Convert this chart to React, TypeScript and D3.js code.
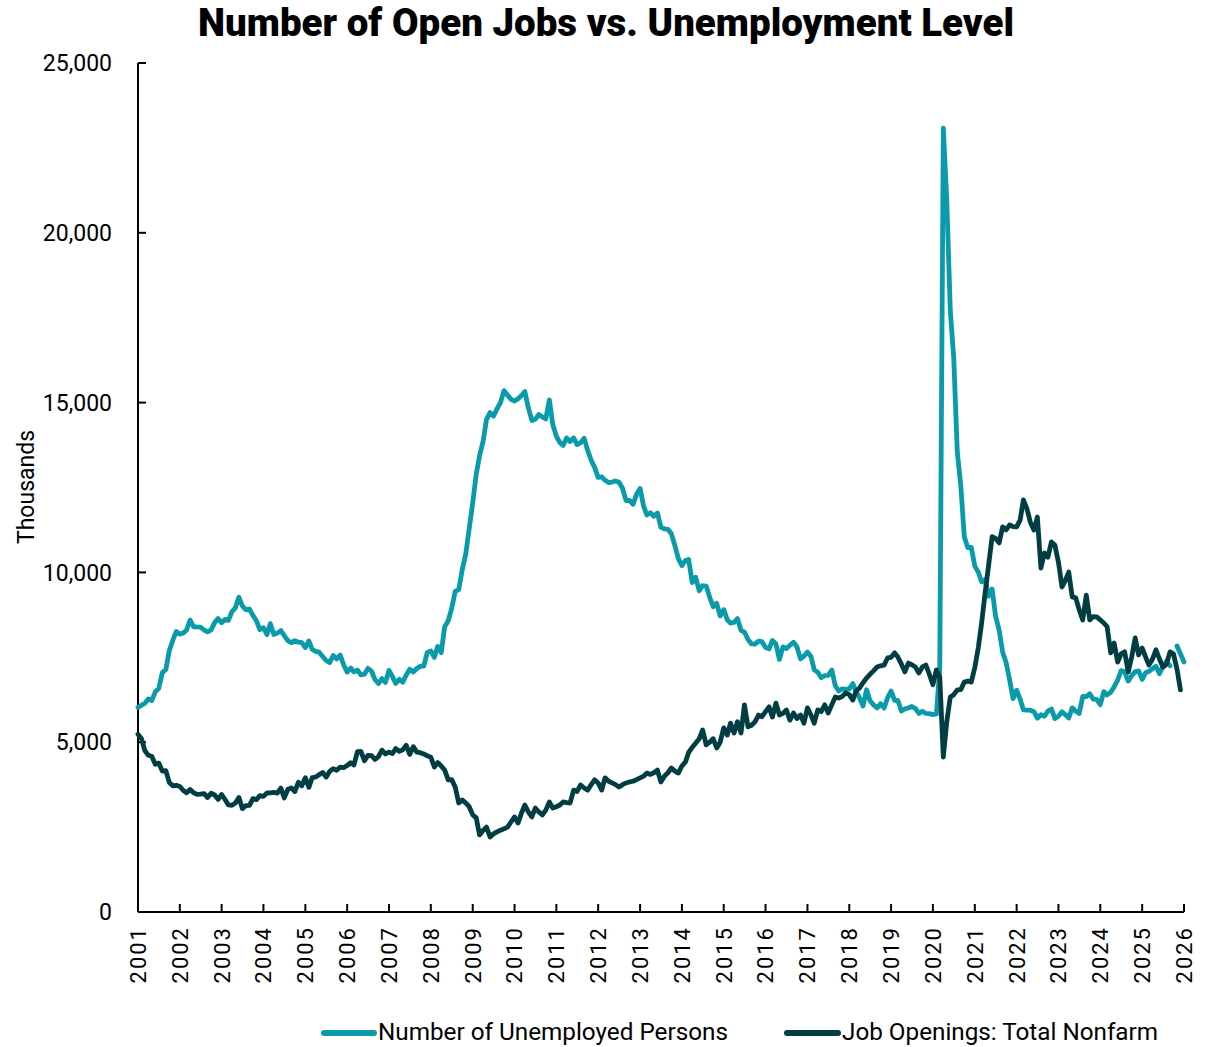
import React from "react";
import * as d3 from "d3";

const TITLE = "Number of Open Jobs vs. Unemployment Level";
const SERIES_NAMES = ["Number of Unemployed Persons", "Job Openings: Total Nonfarm"];
const Y_TICKS = [0, 5000, 10000, 15000, 20000, 25000];
const X_YEARS = d3.range(2001, 2027);

// Monthly, Jan 2001 .. Jan 2026 (thousands). null = not collected.
const unemployed: (number | null)[] = [
  6023, 6089, 6141, 6271, 6226, 6484, 6583, 7042, 7142, 7694, 8003, 8258,
  8182, 8215, 8304, 8599, 8399, 8393, 8390, 8304, 8251, 8307, 8520, 8640,
  8520, 8618, 8588, 8842, 8957, 9266, 9011, 8896, 8921, 8732, 8576, 8317,
  8370, 8167, 8491, 8170, 8212, 8286, 8136, 7990, 7927, 7992, 7944, 7934,
  7784, 7980, 7737, 7672, 7651, 7524, 7406, 7345, 7553, 7453, 7566, 7279,
  7064, 7184, 7072, 7120, 6980, 7001, 7175, 7091, 6847, 6727, 6872, 6762,
  7116, 6927, 6731, 6850, 6766, 6979, 7149, 7067, 7170, 7237, 7240, 7645,
  7685, 7497, 7822, 7637, 8395, 8575, 8937, 9438, 9494, 10074, 10538, 11286,
  12058, 12898, 13426, 13853, 14499, 14707, 14601, 14814, 15009, 15352, 15219, 15098,
  15046, 15113, 15202, 15325, 14849, 14474, 14512, 14648, 14579, 14516, 15081, 14348,
  14013, 13820, 13737, 13957, 13855, 13962, 13763, 13818, 13948, 13594, 13302, 13093,
  12797, 12813, 12713, 12646, 12660, 12692, 12656, 12471, 12115, 12124, 12005, 12298,
  12471, 11950, 11689, 11760, 11654, 11751, 11335, 11279, 11270, 11136, 10787, 10404,
  10202, 10349, 10380, 9702, 9859, 9460, 9608, 9599, 9262, 8990, 9090, 8717,
  8903, 8610, 8504, 8526, 8640, 8296, 8243, 8026, 7893, 7886, 7975, 7960,
  7790, 7751, 7996, 7892, 7436, 7806, 7755, 7855, 7942, 7812, 7452, 7531,
  7653, 7523, 7130, 7059, 6900, 6959, 6966, 7124, 6661, 6509, 6573, 6556,
  6572, 6725, 6492, 6306, 6064, 6545, 6220, 6099, 6008, 6133, 6004, 6303,
  6505, 6232, 6229, 5920, 5980, 6006, 6052, 5993, 5846, 5913, 5846, 5840,
  5811, 5831, 7191, 23078, 20985, 17697, 16308, 13542, 12535, 11049, 10728, 10736,
  10184, 10006, 9725, 9794, 9300, 9509, 8714, 8305, 7652, 7349, 6829, 6285,
  6533, 6262, 5954, 5945, 5942, 5897, 5707, 5808, 5765, 5915, 5977, 5696,
  5767, 5896, 5813, 5712, 6011, 5913, 5847, 6346, 6340, 6425, 6267, 6260,
  6106, 6489, 6392, 6469, 6626, 6825, 7109, 7078, 6799, 6959, 7078, 7096,
  6849, 7052, 7083, 7166, 7237, 7015, 7236, 7384, 7250, null, 7831, 7600,
  7362,
];

// Monthly, Jan 2001 .. Dec 2025 (thousands).
const openings: number[] = [
  5234, 5097, 4762, 4615, 4587, 4350, 4385, 4150, 4162, 3815, 3715, 3732,
  3696, 3577, 3510, 3604, 3510, 3463, 3472, 3487, 3370, 3496, 3446, 3316,
  3460, 3306, 3152, 3142, 3207, 3372, 3044, 3135, 3140, 3339, 3309, 3425,
  3405, 3505, 3507, 3521, 3498, 3647, 3358, 3614, 3654, 3546, 3820, 3719,
  3955, 3672, 3954, 3975, 4044, 4106, 3972, 4140, 4220, 4175, 4266, 4250,
  4314, 4395, 4332, 4720, 4729, 4453, 4612, 4604, 4493, 4573, 4765, 4653,
  4707, 4665, 4813, 4730, 4775, 4908, 4641, 4869, 4709, 4692, 4653, 4600,
  4560, 4270, 4400, 4300, 4180, 3890, 3900, 3680, 3210, 3300, 3210, 3100,
  2860, 2770, 2270, 2400, 2500, 2210, 2300, 2360, 2410, 2450, 2500, 2650,
  2800, 2620, 2900, 3150, 2950, 2800, 3060, 2950, 2860, 3000, 3240, 3060,
  3100, 3150, 3240, 3220, 3210, 3590, 3550, 3740, 3650, 3590, 3750, 3890,
  3800, 3590, 3950, 3850, 3800, 3750, 3680, 3750, 3800, 3830, 3850, 3900,
  3950, 4000, 4090, 4050, 4100, 4180, 3830, 4000, 4100, 4240, 4150, 4090,
  4300, 4420, 4700, 4850, 4970, 5100, 5360, 4920, 5000, 5100, 4830, 5000,
  5420, 5210, 5560, 5270, 5600, 5270, 6100, 5450, 5500, 5600, 5800, 5750,
  5900, 6040, 5740, 6150, 5800, 5850, 5950, 5650, 5860, 5700, 5800, 5560,
  6010, 5800, 5560, 5950, 5900, 6100, 5860, 6100, 6330, 6300, 6350, 6450,
  6400, 6240, 6500, 6600, 6750, 6890, 7000, 7100, 7215, 7250, 7270, 7480,
  7500, 7630, 7510, 7300, 7070, 7330, 7280, 7215, 7040, 7215, 7270, 7000,
  6690, 7130, 6920, 4560, 5600, 6330, 6400, 6540, 6550, 6770, 6800, 6770,
  7200, 7800, 8500, 9400, 10200, 11050, 11000, 10870, 11340, 11250, 11400, 11350,
  11343, 11549, 12134, 11872, 11479, 11250, 11630, 10130, 10570, 10450, 10900, 10800,
  10300, 9570, 9750, 10010, 9280, 9250, 8900, 8600, 9330, 8600, 8700, 8690,
  8600, 8510, 8400, 7630, 7920, 7360, 7600, 7660, 7070, 7500, 8070, 7570,
  7770, 7500, 7270, 7450, 7720, 7450, 7210, 7300, 7660, 7600, 7150, 6540,
];

const TEAL = "#0a9bab";
const DARK = "#013e43";

type Pt = { d: Date; v: number | null };
const toPts = (arr: (number | null)[]): Pt[] =>
  arr.map((v, i) => ({ d: new Date(2001, i, 1), v }));

export default function App() {
  const W = 1213, H = 1047;
  const left = 138, right = 1184, top = 63, bottom = 912;
  const x = d3.scaleTime().domain([new Date(2001, 0, 1), new Date(2026, 0, 1)]).range([left, right]);
  const y = d3.scaleLinear().domain([0, 25000]).range([bottom, top]);
  const line = d3
    .line<Pt>()
    .defined((p) => p.v != null)
    .x((p) => x(p.d))
    .y((p) => y(p.v as number))
    .curve(d3.curveLinear);
  const font = "Roboto, 'Liberation Sans', sans-serif";
  const fmt = d3.format(",");

  return (
    <svg
      width={W}
      height={H}
      style={{ position: "absolute", left: 0, top: 0, display: "block", background: "#fff" }}
      fontFamily={font}
    >
      <text x={606} y={36} textAnchor="middle" fontSize={38} fontWeight={900} fill="#000"
        textLength={816} lengthAdjust="spacingAndGlyphs">
        {TITLE}
      </text>

      {/* y-axis */}
      <line x1={left} x2={left} y1={top} y2={bottom} stroke="#000" strokeWidth={2} />
      {Y_TICKS.map((t) => (
        <g key={t}>
          <line x1={left} x2={left + 8} y1={y(t)} y2={y(t)} stroke="#000" strokeWidth={2} />
          <text x={112} y={y(t)} dy="0.36em" textAnchor="end" fontSize={23} fill="#000">
            {fmt(t)}
          </text>
        </g>
      ))}
      <text transform={`translate(34,487) rotate(-90)`} textAnchor="middle" fontSize={23} fill="#000">
        Thousands
      </text>

      {/* x-axis */}
      <line x1={left} x2={right} y1={bottom} y2={bottom} stroke="#000" strokeWidth={2} />
      {X_YEARS.map((yr) => {
        const xx = x(new Date(yr, 0, 1));
        return (
          <g key={yr}>
            <line x1={xx} x2={xx} y1={bottom} y2={bottom - 8} stroke="#000" strokeWidth={2} />
            <text transform={`translate(${xx},926) rotate(-90)`} dy="0.36em" textAnchor="end"
              fontSize={22} letterSpacing={2} fill="#000">
              {yr}
            </text>
          </g>
        );
      })}

      {/* series */}
      <path d={line(toPts(unemployed)) || ""} fill="none" stroke={TEAL} strokeWidth={4.8}
        strokeLinejoin="round" strokeLinecap="round" />
      <path d={line(toPts(openings)) || ""} fill="none" stroke={DARK} strokeWidth={4.8}
        strokeLinejoin="round" strokeLinecap="round" />

      {/* legend */}
      <line x1={324} x2={374} y1={1033} y2={1033} stroke={TEAL} strokeWidth={6} strokeLinecap="round" />
      <text x={378} y={1040} fontSize={23} fill="#000" textLength={350}
        lengthAdjust="spacingAndGlyphs">{SERIES_NAMES[0]}</text>
      <line x1={787} x2={838} y1={1033} y2={1033} stroke={DARK} strokeWidth={6} strokeLinecap="round" />
      <text x={842} y={1040} fontSize={23} fill="#000" textLength={316}
        lengthAdjust="spacingAndGlyphs">{SERIES_NAMES[1]}</text>
    </svg>
  );
}
